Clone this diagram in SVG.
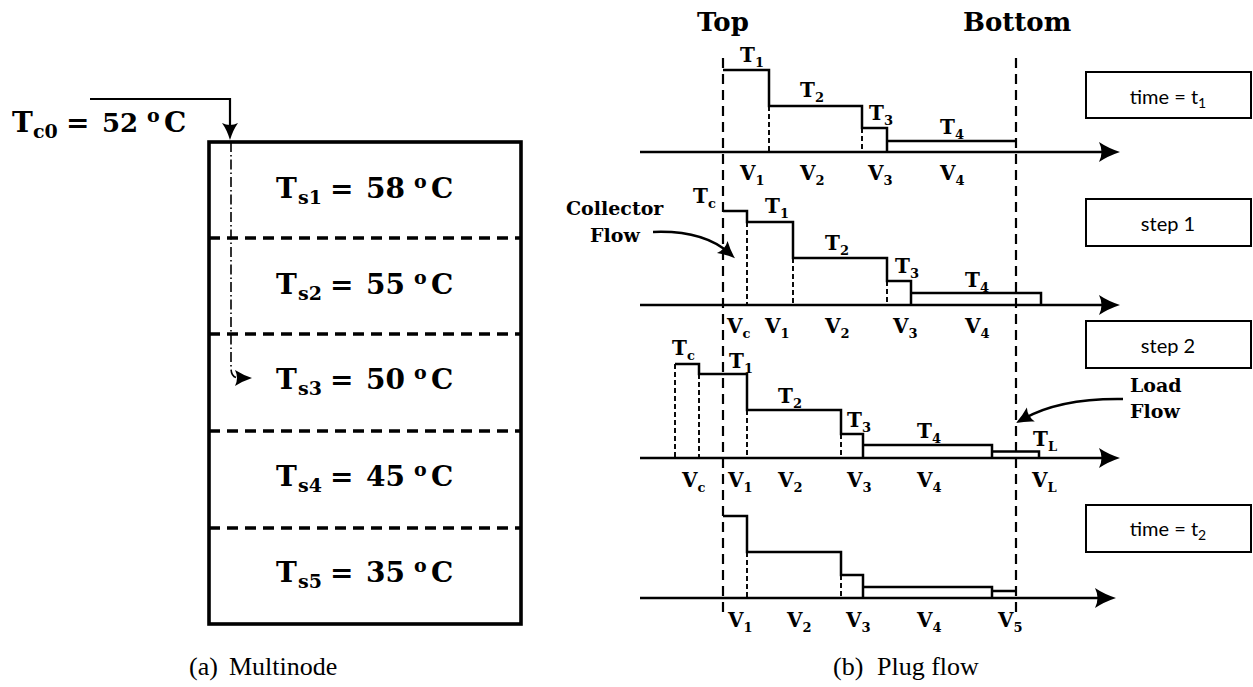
<svg xmlns="http://www.w3.org/2000/svg" width="1253" height="687" viewBox="0 0 1253 687">
<defs>
<marker id="ah" markerUnits="userSpaceOnUse" markerWidth="22" markerHeight="22" refX="12" refY="10" orient="auto" overflow="visible"><path d="M21,10 Q9,6 0,0 Q5,10 0,20 Q9,14 21,10 Z" fill="#000"/></marker>
<marker id="ahm" markerUnits="userSpaceOnUse" markerWidth="18" markerHeight="18" refX="9" refY="8" orient="auto" overflow="visible"><path d="M17,8 Q7,5 0,0 Q4,8 0,16 Q7,11 17,8 Z" fill="#000"/></marker>
<marker id="ahs" markerUnits="userSpaceOnUse" markerWidth="18" markerHeight="16" refX="9" refY="8" orient="auto" overflow="visible"><path d="M17,8 Q8,5 0,0 Q4,8 0,16 Q8,11 17,8 Z" fill="#000"/></marker>
</defs>
<style>
.bt{font-family:"DejaVu Serif",serif;font-weight:bold;fill:#000}
.big{font-size:28px}
.bsub{font-size:19px}
.pl{font-family:"DejaVu Serif",serif;font-weight:bold;font-size:20px;fill:#000}
.sb{font-size:13px}
.solid{fill:none;stroke:#000;stroke-width:2.5}
.dash{fill:none;stroke:#000;stroke-width:2.2;stroke-dasharray:10 6}
.sdash{fill:none;stroke:#000;stroke-width:1.9;stroke-dasharray:5 3}
.axis{fill:none;stroke:#000;stroke-width:2.6;marker-end:url(#ah)}
.box{fill:#fff;stroke:#000;stroke-width:2}
.boxt{font-family:Lato,"Open Sans",sans-serif;font-size:20px;text-anchor:middle;fill:#000}
.cap{font-family:"Liberation Serif",serif;font-size:26px;fill:#000}
.tank{fill:none;stroke:#000;stroke-width:3.6}
.tdash{fill:none;stroke:#000;stroke-width:3.4;stroke-dasharray:11 7}
</style>

<!-- (a) Multinode -->
<g id="tank">
<rect class="tank" x="209" y="142" width="312" height="482"/>
<path class="tdash" d="M209,238 H521 M209,334 H521 M209,431 H521 M209,528 H521"/>
</g>
<g id="tc0-label">
<text class="bt big" y="132"><tspan x="12">T</tspan><tspan class="bsub" x="33" dy="6">c0</tspan><tspan x="66" dy="-6">=</tspan><tspan x="102" font-size="26">52</tspan><tspan class="bsub" x="147" dy="-10">o</tspan><tspan x="164" dy="10">C</tspan></text>
</g>
<g id="node-s1"><text class="bt big" y="198"><tspan x="276">T</tspan><tspan class="bsub" x="298" dy="6">s1</tspan><tspan x="330" dy="-6">=</tspan><tspan x="366">58</tspan><tspan class="bsub" x="414" dy="-10">o</tspan><tspan x="431" dy="10">C</tspan></text></g>
<g id="node-s2"><text class="bt big" y="294"><tspan x="276">T</tspan><tspan class="bsub" x="298" dy="6">s2</tspan><tspan x="330" dy="-6">=</tspan><tspan x="366">55</tspan><tspan class="bsub" x="414" dy="-10">o</tspan><tspan x="431" dy="10">C</tspan></text></g>
<g id="node-s3"><text class="bt big" y="389"><tspan x="276">T</tspan><tspan class="bsub" x="298" dy="6">s3</tspan><tspan x="330" dy="-6">=</tspan><tspan x="366">50</tspan><tspan class="bsub" x="414" dy="-10">o</tspan><tspan x="431" dy="10">C</tspan></text></g>
<g id="node-s4"><text class="bt big" y="486"><tspan x="276">T</tspan><tspan class="bsub" x="298" dy="6">s4</tspan><tspan x="330" dy="-6">=</tspan><tspan x="366">45</tspan><tspan class="bsub" x="414" dy="-10">o</tspan><tspan x="431" dy="10">C</tspan></text></g>
<g id="node-s5"><text class="bt big" y="582"><tspan x="276">T</tspan><tspan class="bsub" x="298" dy="6">s5</tspan><tspan x="330" dy="-6">=</tspan><tspan x="366">35</tspan><tspan class="bsub" x="414" dy="-10">o</tspan><tspan x="431" dy="10">C</tspan></text></g>
<text class="cap" y="675"><tspan x="189">(a)</tspan><tspan x="229">Multinode</tspan></text>

<!-- (b) Plug flow -->
<g id="headers">
<text class="pl" style="font-size:26px" x="697" y="31">Top</text>
<text class="pl" style="font-size:26px" x="963" y="31">Bottom</text>
<path class="dash" d="M723,58 V612 M1016,58 V612"/>
</g>

<g id="plot-t1">
<path class="solid" d="M723,70 H769 V106 H862 V128 H887 V141 H1016 M887,141 V152"/>
<path class="sdash" d="M769,106 V152 M862,128 V152"/>
<text class="pl" x="740" y="62">T<tspan class="sb" dy="5">1</tspan></text>
<text class="pl" x="800" y="97">T<tspan class="sb" dy="5">2</tspan></text>
<text class="pl" x="869" y="120">T<tspan class="sb" dy="5">3</tspan></text>
<text class="pl" x="940" y="134">T<tspan class="sb" dy="5">4</tspan></text>
<text class="pl" x="740" y="180">V<tspan class="sb" dy="5">1</tspan></text>
<text class="pl" x="800" y="180">V<tspan class="sb" dy="5">2</tspan></text>
<text class="pl" x="868" y="180">V<tspan class="sb" dy="5">3</tspan></text>
<text class="pl" x="940" y="180">V<tspan class="sb" dy="5">4</tspan></text>
</g>

<g id="plot-step1">
<path class="solid" d="M723,211 H747 V222 H793 V258 H887 V281 H911 V293 H1041 V305 M911,293 V305"/>
<path class="sdash" d="M747,222 V305 M793,258 V305 M887,281 V305"/>
<text class="pl" x="693" y="203">T<tspan class="sb" dy="5">c</tspan></text>
<text class="pl" x="765" y="213">T<tspan class="sb" dy="5">1</tspan></text>
<text class="pl" x="825" y="250">T<tspan class="sb" dy="5">2</tspan></text>
<text class="pl" x="895" y="273">T<tspan class="sb" dy="5">3</tspan></text>
<text class="pl" x="965" y="287">T<tspan class="sb" dy="5">4</tspan></text>
<text class="pl" x="727" y="333">V<tspan class="sb" dy="5">c</tspan></text>
<text class="pl" x="765" y="333">V<tspan class="sb" dy="5">1</tspan></text>
<text class="pl" x="825" y="333">V<tspan class="sb" dy="5">2</tspan></text>
<text class="pl" x="893" y="333">V<tspan class="sb" dy="5">3</tspan></text>
<text class="pl" x="965" y="333">V<tspan class="sb" dy="5">4</tspan></text>
<text class="pl" style="font-size:19px" x="566" y="215">Collector</text>
<text class="pl" style="font-size:19px" x="590" y="242">Flow</text>
</g>

<g id="plot-step2">
<path class="solid" d="M675,364 H699 V374 H747 V410 H841 V434 H863 V445 H992 V451.5 H1039 V458 M863,445 V458 M992,451 V458"/>
<path class="sdash" d="M675,364 V458 M699,374 V458 M747,410 V458 M841,434 V458"/>
<text class="pl" x="672" y="355">T<tspan class="sb" dy="5">c</tspan></text>
<text class="pl" x="729" y="368">T<tspan class="sb" dy="5">1</tspan></text>
<text class="pl" x="778" y="403">T<tspan class="sb" dy="5">2</tspan></text>
<text class="pl" x="847" y="427">T<tspan class="sb" dy="5">3</tspan></text>
<text class="pl" x="917" y="438">T<tspan class="sb" dy="5">4</tspan></text>
<text class="pl" x="1033" y="446">T<tspan class="sb" dy="5">L</tspan></text>
<text class="pl" x="682" y="487">V<tspan class="sb" dy="5">c</tspan></text>
<text class="pl" x="728" y="487">V<tspan class="sb" dy="5">1</tspan></text>
<text class="pl" x="778" y="487">V<tspan class="sb" dy="5">2</tspan></text>
<text class="pl" x="847" y="487">V<tspan class="sb" dy="5">3</tspan></text>
<text class="pl" x="917" y="487">V<tspan class="sb" dy="5">4</tspan></text>
<text class="pl" x="1032" y="487">V<tspan class="sb" dy="5">L</tspan></text>
<text class="pl" style="font-size:19px" x="1130" y="392">Load</text>
<text class="pl" style="font-size:19px" x="1130" y="418">Flow</text>
</g>

<g id="plot-t2">
<path class="solid" d="M723,516 H747 V552 H841 V575 H863 V587 H992 V591 H1016 M863,587 V598 M992,591 V598"/>
<path class="sdash" d="M747,552 V598 M841,575 V598"/>
<text class="pl" x="728" y="627">V<tspan class="sb" dy="5">1</tspan></text>
<text class="pl" x="787" y="627">V<tspan class="sb" dy="5">2</tspan></text>
<text class="pl" x="846" y="627">V<tspan class="sb" dy="5">3</tspan></text>
<text class="pl" x="917" y="627">V<tspan class="sb" dy="5">4</tspan></text>
<text class="pl" x="998" y="627">V<tspan class="sb" dy="5">5</tspan></text>
</g>
<text class="cap" y="675"><tspan x="833">(b)</tspan><tspan x="877">Plug flow</tspan></text>

<g id="box-t1"><rect class="box" x="1086" y="72" width="165" height="46"/><text class="boxt" x="1168" y="104">time = t<tspan font-size="14" dy="4">1</tspan></text></g>
<g id="box-step1"><rect class="box" x="1086" y="199" width="165" height="47"/><text class="boxt" x="1168" y="231">step 1</text></g>
<g id="box-step2"><rect class="box" x="1086" y="321" width="165" height="47"/><text class="boxt" x="1168" y="353">step 2</text></g>
<g id="box-t2"><rect class="box" x="1086" y="505" width="165" height="47"/><text class="boxt" x="1168" y="536">time = t<tspan font-size="14" dy="4">2</tspan></text></g>

<g id="connectors">
<path class="axis" d="M640,152 H1111"/>
<path class="axis" d="M640,305 H1111"/>
<path class="axis" d="M640,458 H1111"/>
<path class="axis" d="M640,598 H1107"/>
<path fill="none" stroke="#000" stroke-width="2.2" marker-end="url(#ahm)" d="M90,99 H230 V132"/>
<path fill="none" stroke="#000" stroke-width="1.6" stroke-dasharray="10 3 1.5 3" d="M231,142 V368 Q231,378 239,378 H243"/>
<path fill="none" stroke="#000" stroke-width="1.6" marker-end="url(#ahs)" d="M242,378 H244"/>
<path fill="none" stroke="#000" stroke-width="2.5" marker-end="url(#ahs)" d="M653,232 Q703,230 729,253"/>
<path fill="none" stroke="#000" stroke-width="2.5" marker-end="url(#ahs)" d="M1123,399 Q1060,398 1023,419"/>
</g>
</svg>
